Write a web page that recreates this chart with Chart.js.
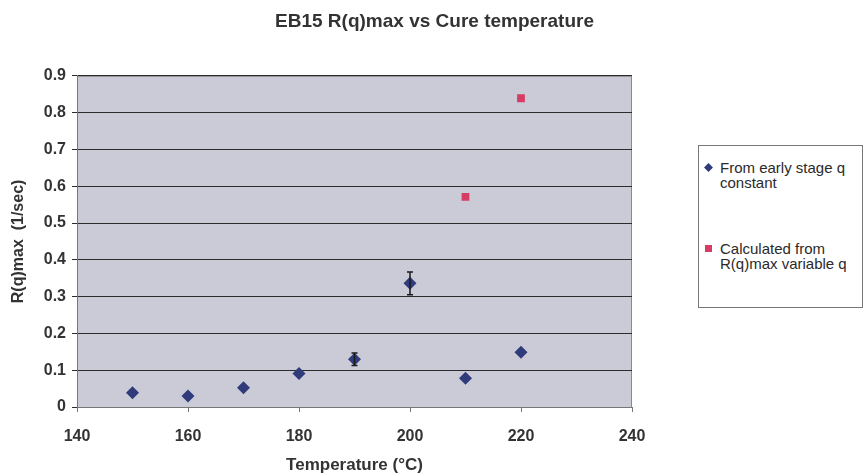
<!DOCTYPE html>
<html>
<head>
<meta charset="utf-8">
<script src="https://cdn.jsdelivr.net/npm/chart.js@4.4.1/dist/chart.umd.min.js"></script>
<style>
  html, body { margin: 0; padding: 0; background: #fff; }
  #wrap { position: relative; width: 865px; height: 476px; }
  #legend {
    position: absolute; left: 698px; top: 145px; width: 163px; height: 161px;
    border: 1px solid #777; background: #fff;
    font-family: 'Liberation Sans', Arial, sans-serif; font-size: 15px; color: #2a2a2a;
  }
  .item { position: absolute; left: 6px; line-height: 15px; white-space: nowrap; }
  .item .mk { position: absolute; left: 0; top: 4px; width: 7px; height: 7px; }
  .item .txt { margin-left: 15px; display: block; }
</style>
</head>
<body>
<div id="wrap">
  <canvas id="chart" width="865" height="476"></canvas>
  <div id="legend"></div>
</div>
<script>
/* ── DATA ───────────────────────────────────── */
const temps      = [150, 160, 170, 180, 190, 200, 210, 220];
const earlyStage = [0.039, 0.030, 0.052, 0.091, 0.130, 0.336, 0.078, 0.149];
const earlyErr   = [0, 0, 0, 0, 0.017, 0.031, 0, 0];
const calcTemps  = [210, 220];
const calcValues = [0.571, 0.839];
const xTicks     = [140, 160, 180, 200, 220, 240];
const yTicks     = [0, 0.1, 0.2, 0.3, 0.4, 0.5, 0.6, 0.7, 0.8, 0.9];

const font = "'Liberation Sans', Arial, sans-serif";
const navy = '#2f3b7a';
const pink = '#d63c64';

/* ── PLUGINS ────────────────────────────────── */
const plotBg = {
  id: 'plotBg',
  beforeDraw(chart) {
    const { ctx, chartArea: a } = chart;
    ctx.save();
    ctx.fillStyle = '#cbcbd8';
    ctx.fillRect(a.left, a.top, a.right - a.left, a.bottom - a.top);
    ctx.strokeStyle = '#8a8a8a';
    ctx.lineWidth = 1;
    ctx.strokeRect(a.left + 0.5, a.top + 0.5, a.right - a.left - 1, a.bottom - a.top);
    ctx.restore();
  }
};

const errorBars = {
  id: 'errorBars',
  afterDatasetsDraw(chart) {
    const { ctx, scales: { x, y } } = chart;
    ctx.save();
    ctx.strokeStyle = '#1a1a1a';
    ctx.lineWidth = 1.5;
    temps.forEach((t, i) => {
      const e = earlyErr[i];
      if (!e) return;
      const px = x.getPixelForValue(t);
      const top = y.getPixelForValue(earlyStage[i] + e);
      const bot = y.getPixelForValue(earlyStage[i] - e);
      ctx.beginPath();
      ctx.moveTo(px, top); ctx.lineTo(px, bot);
      ctx.moveTo(px - 3, top); ctx.lineTo(px + 3, top);
      ctx.moveTo(px - 3, bot); ctx.lineTo(px + 3, bot);
      ctx.stroke();
    });
    ctx.restore();
  }
};

/* ── CHART ──────────────────────────────────── */
const chart = new Chart(document.getElementById('chart'), {
  type: 'scatter',
  data: {
    datasets: [
      {
        label: 'From early stage q constant',
        data: temps.map((t, i) => ({ x: t, y: earlyStage[i] })),
        pointStyle: 'rectRot',
        pointRadius: 6.5,
        backgroundColor: navy,
        borderColor: navy,
        borderWidth: 0
      },
      {
        label: 'Calculated from R(q)max variable q',
        data: calcTemps.map((t, i) => ({ x: t, y: calcValues[i] })),
        pointStyle: 'rect',
        pointRadius: 5.5,
        backgroundColor: pink,
        borderColor: pink,
        borderWidth: 0
      }
    ]
  },
  options: {
    responsive: false,
    animation: false,
    layout: { padding: { left: 4, right: 0, top: 10, bottom: 0 } },
    plugins: {
      legend: { display: false },
      tooltip: { enabled: false },
      title: {
        display: true,
        text: 'EB15 R(q)max vs Cure temperature',
        color: '#333',
        font: { family: font, size: 19, weight: 'bold' },
        padding: { top: 0, bottom: 43 }
      }
    },
    scales: {
      x: {
        type: 'linear',
        min: 140, max: 240,
        afterBuildTicks: s => { s.ticks = xTicks.map(v => ({ value: v })); },
        afterFit: s => { s.height = 69; },
        grid: { drawOnChartArea: false, drawTicks: true, tickLength: 5, color: '#777' },
        border: { color: '#777' },
        ticks: { color: '#333', font: { family: font, size: 16, weight: 'bold' }, padding: 15, maxRotation: 0 },
        title: {
          display: true, text: 'Temperature (°C)', color: '#333',
          font: { family: font, size: 17, weight: 'bold' }, padding: { top: 4, bottom: 0 }
        }
      },
      y: {
        min: 0, max: 0.9,
        afterBuildTicks: s => { s.ticks = yTicks.map(v => ({ value: v })); },
        afterFit: s => { s.width = 73; },
        grid: { color: '#2b2b2b', lineWidth: 1, tickLength: 5, drawTicks: true },
        border: { color: '#777' },
        ticks: {
          color: '#333', font: { family: font, size: 16, weight: 'bold' }, padding: 6,
          callback: v => v === 0 ? '0' : v.toFixed(1)
        },
        title: {
          display: true, text: 'R(q)max  (1/sec)', color: '#333',
          font: { family: font, size: 16, weight: 'bold' }, padding: { top: 5, bottom: 4 }
        }
      },
      // empty box on the right that keeps room for the legend
      side: {
        type: 'linear',
        position: 'right',
        afterFit: s => { s.width = 233; },
        grid: { display: false },
        border: { display: false },
        ticks: { display: false }
      }
    }
  },
  plugins: [plotBg, errorBars]
});

/* ── LEGEND ─────────────────────────────────── */
const legend = document.getElementById('legend');
const tops = [14, 95];
chart.data.datasets.forEach((ds, i) => {
  const item = document.createElement('div');
  item.className = 'item';
  item.style.top = tops[i] + 'px';
  const mk = document.createElement('span');
  mk.className = 'mk';
  mk.style.background = ds.backgroundColor;
  if (ds.pointStyle === 'rectRot') mk.style.transform = 'rotate(45deg) scale(0.9)';
  const txt = document.createElement('span');
  txt.className = 'txt';
  txt.innerHTML = i === 0 ? 'From early stage q<br>constant' : 'Calculated from<br>R(q)max variable q';
  item.appendChild(mk);
  item.appendChild(txt);
  legend.appendChild(item);
});
</script>
</body>
</html>
